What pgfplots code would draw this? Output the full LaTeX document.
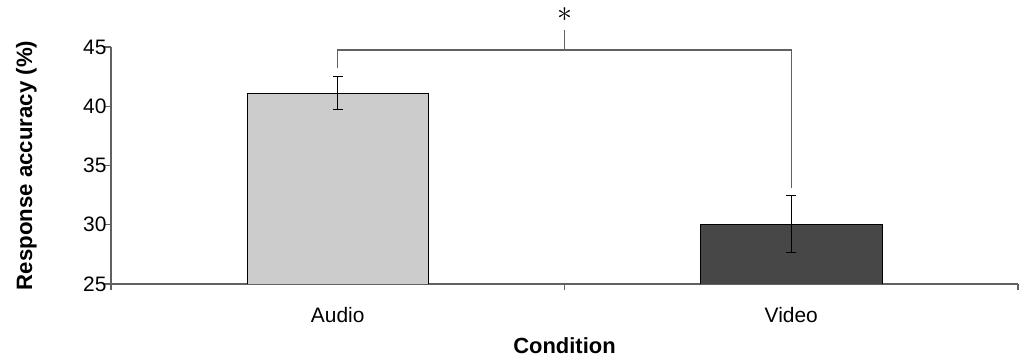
\documentclass[border=0pt]{standalone}
\usepackage{fontspec}
\setmainfont{Liberation Sans}
\usepackage{pgfplots}
\pgfplotsset{compat=1.18}
\definecolor{axisgray}{gray}{0.38}
\definecolor{lightbar}{HTML}{CCCCCC}
\definecolor{darkbar}{HTML}{474747}
\begin{document}
\begin{tikzpicture}
\begin{axis}[
  name=main,
  width=907bp, height=237bp, scale only axis,
  xmin=-0.5, xmax=1.5, ymin=25, ymax=45,
  axis lines=left,
  axis line style={axisgray, line width=1.3bp, -},
  ytick={25,30,35,40,45},
  xtick={0,1}, xticklabels={Audio,Video},
  minor xtick={-0.5,0.5,1.5},
  tick align=outside,
  major tick length=7bp, minor tick length=6bp,
  tick style={axisgray, line width=1.3bp},
  major x tick style={draw=none},
  /pgf/number format/assume math mode=true,
  tick label style={font=\fontsize{21}{25}\selectfont, text=black},
  xticklabel style={font=\fontsize{21}{25}\selectfont, yshift=-13bp},
  yticklabel style={font=\fontsize{21}{25}\selectfont, xshift=6bp},
  xlabel={Condition}, ylabel={Response accuracy (\%)},
  xlabel style={font=\bfseries\fontsize{22}{25}\selectfont, at={(axis description cs:0.5,0)}, anchor=center, yshift=-61.5bp},
  ylabel style={font=\bfseries\fontsize{22.3}{25}\selectfont, at={(axis description cs:0,0.5)}, anchor=center, yshift=84.5bp},
]
\addplot[ybar, bar width=0.4, fill=lightbar, draw=black, line width=0.8bp,
  error bars/.cd, y dir=both, y explicit,
  error bar style={black, line width=1bp},
  error mark options={rotate=90, mark size=5bp, black, line width=1bp}]
  coordinates {(0,41.1) += (0,1.45) -= (0,1.35)};
\addplot[ybar, bar width=0.4, fill=darkbar, draw=black, line width=0.8bp,
  error bars/.cd, y dir=both, y explicit,
  error bar style={black, line width=1bp},
  error mark options={rotate=90, mark size=5bp, black, line width=1bp}]
  coordinates {(1,30.05) += (0,2.42) -= (0,2.4)};
\end{axis}
\begin{axis}[
  width=907bp, height=237bp, scale only axis,
  xmin=-0.5, xmax=1.5, ymin=25, ymax=45,
  hide axis, clip=false,
]
\addplot[axisgray, line width=1.3bp, sharp plot, mark=none]
  coordinates {(0,43.2) (0,44.75) (1,44.75) (1,33.1)};
\addplot[axisgray, line width=1.3bp, sharp plot, mark=none]
  coordinates {(0.5,44.75) (0.5,46.4)};
\node[inner sep=0pt, anchor=center] at (axis cs:0.5,47.75) {\scalebox{3}{$\ast$}};
\end{axis}
\path ([xshift=-111bp,yshift=-74bp]main.south west) rectangle ([xshift=1bp,yshift=47bp]main.north east);
\end{tikzpicture}
\end{document}
